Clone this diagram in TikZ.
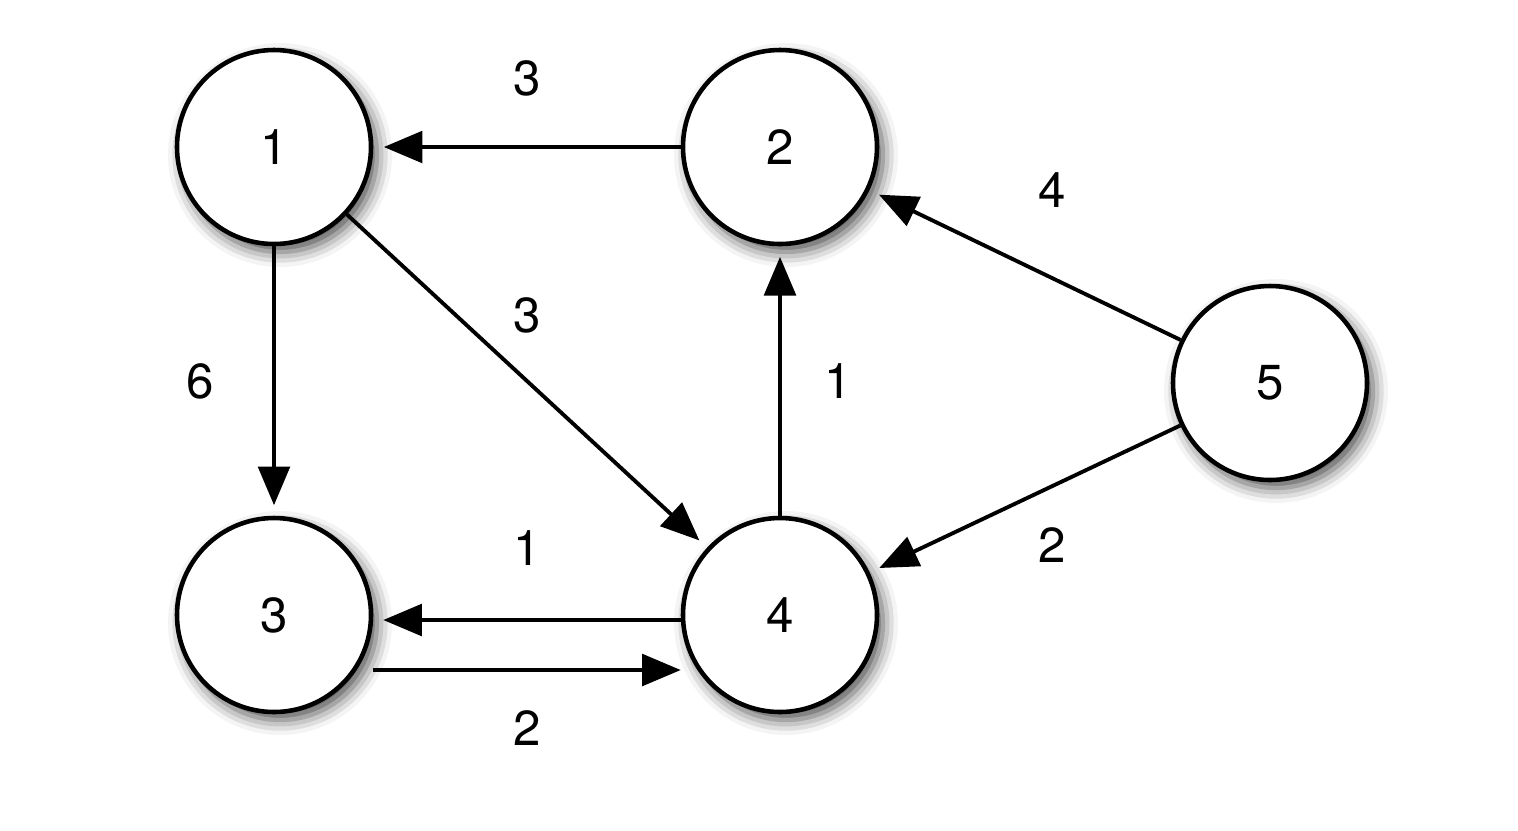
\documentclass[tikz,border=0pt]{standalone}
\usepackage{fontspec}
\setmainfont{TeX Gyre Heros}
\usetikzlibrary{arrows.meta,shadows.blur}
\begin{document}
\begin{tikzpicture}[
        vertex/.style={circle, draw, line width=1.3pt, fill=white, minimum size=1.94cm, inner sep=0pt,
            font=\fontsize{14}{16}\selectfont,
            blur shadow={shadow xshift=0.06cm, shadow yshift=-0.08cm, shadow blur radius=0.15cm, shadow opacity=70}},
        link/.style={-{Triangle[length=11pt,width=9pt]}, line width=1.1pt, shorten >=3pt},
        weight/.style={font=\fontsize{14}{16}\selectfont}
    ]
    \useasboundingbox (0,0) rectangle (15.18,-8.3);
    \node[vertex] (v1) at (2.74,-1.47) {1};
    \node[vertex] (v2) at (7.80,-1.47) {2};
    \node[vertex] (v3) at (2.74,-6.15) {3};
    \node[vertex] (v4) at (7.80,-6.15) {4};
    \node[vertex] (v5) at (12.70,-3.83) {5};
    \draw[link] (v2) -- (v1) node[weight, midway, yshift=0.69cm] {3};
    \draw[link] (v1) -- (v3) node[weight, midway, xshift=-0.74cm] {6};
    \draw[link] (v1) -- (v4) node[weight, midway, yshift=0.66cm] {3};
    \draw[link] (v4) -- (v2) node[weight, midway, xshift=0.58cm] {1};
    \draw[link] (v5) -- (v2) node[weight, midway, xshift=0.27cm, yshift=0.75cm] {4};
    \draw[link] (v5) -- (v4) node[weight, midway, xshift=0.27cm, yshift=-0.46cm] {2};
    \draw[link, shorten >=0.1cm] ([yshift=-0.05cm]v4.west) -- ([yshift=-0.05cm]v3.east) node[weight, midway, yshift=0.72cm] {1};
    \draw[link, shorten >=0pt] ([yshift=-0.55cm]v3.east) -- ([yshift=-0.55cm]v4.west) node[weight, midway, yshift=-0.58cm] {2};
\end{tikzpicture}
\end{document}
